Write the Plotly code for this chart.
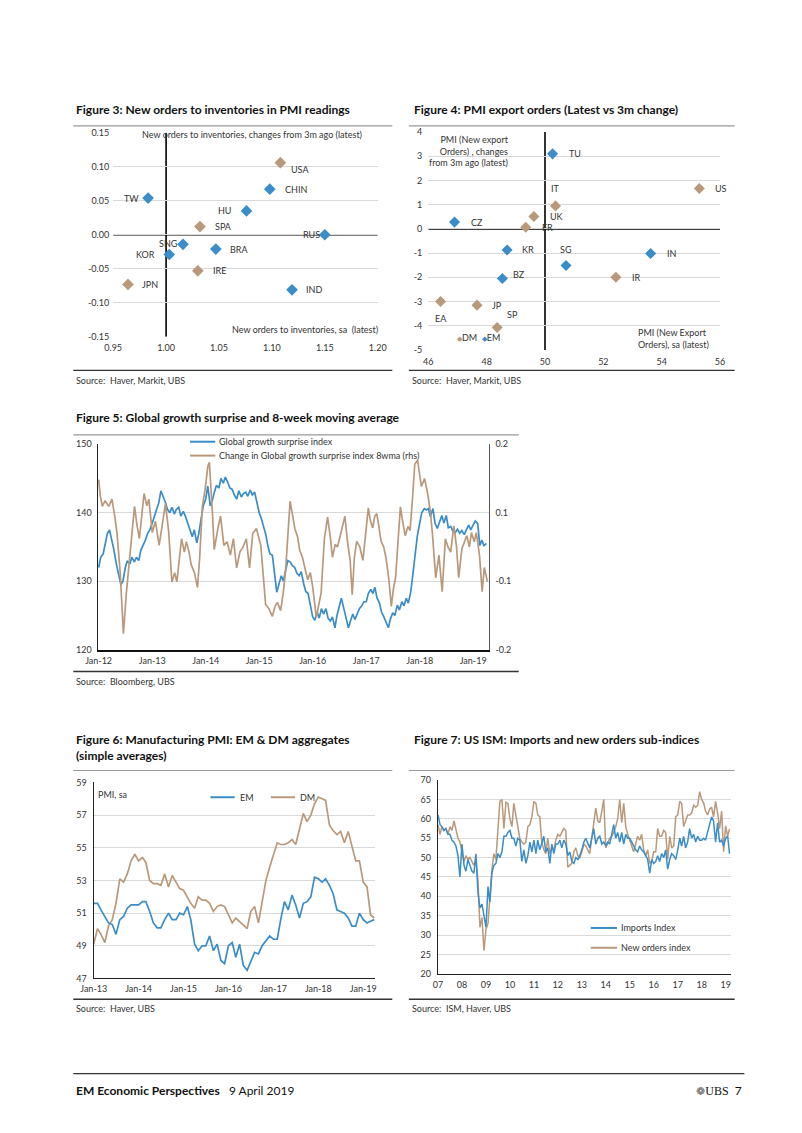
import plotly.graph_objects as go
import pandas as pd

W, H = 802, 1133
def px(x): return x / W
def py(y): return 1 - y / H

BLUE = '#3a8dc8'
TAN = '#b9997c'
GRID = '#d9d9d9'
TXT = '#333333'
FONT = 'Lato'

# ---------------- Figure 3 data ----------------
f3_labels = ['TW', 'CHIN', 'HU', 'RUS', 'SNG', 'KOR', 'BRA', 'IND', 'USA', 'SPA', 'IRE', 'JPN']
f3_x = [0.983, 1.098, 1.076, 1.150, 1.016, 1.003, 1.047, 1.119, 1.108, 1.032, 1.030, 0.964]
f3_y = [0.054, 0.067, 0.035, 0.000, -0.014, -0.029, -0.021, -0.081, 0.106, 0.012, -0.053, -0.073]
f3_group = ['EM', 'EM', 'EM', 'EM', 'EM', 'EM', 'EM', 'EM', 'DM', 'DM', 'DM', 'DM']
f3_xticks = [0.95, 1.00, 1.05, 1.10, 1.15, 1.20]
f3_xticktext = ['0.95', '1.00', '1.05', '1.10', '1.15', '1.20']
f3_yticks = [-0.15, -0.10, -0.05, 0.00, 0.05, 0.10, 0.15]
f3_yticktext = ['-0.15', '-0.10', '-0.05', '0.00', '0.05', '0.10', '0.15']

# ---------------- Figure 4 data ----------------
f4_labels = ['TU', 'CZ', 'KR', 'SG', 'IN', 'BZ', 'US', 'IT', 'UK', 'FR', 'IR', 'EA', 'JP', 'SP']
f4_x = [50.26, 46.90, 48.70, 50.72, 53.62, 48.54, 55.29, 50.36, 49.62, 49.34, 52.43, 46.42, 47.67, 48.36]
f4_y = [3.10, 0.28, -0.87, -1.51, -1.02, -2.05, 1.67, 0.95, 0.51, 0.07, -2.00, -3.00, -3.15, -4.07]
f4_group = ['EM', 'EM', 'EM', 'EM', 'EM', 'EM', 'DM', 'DM', 'DM', 'DM', 'DM', 'DM', 'DM', 'DM']
f4_xticks = [46, 48, 50, 52, 54, 56]
f4_yticks = [-5, -4, -3, -2, -1, 0, 1, 2, 3, 4]
f4_yticktext = ['-5', '-4', '-3', '-2', '-1', '0', '1', '2', '3', '4']

# ---------------- Figure 5 data ----------------
surprise_index = [
    132, 133.5, 134, 135.5, 137, 137.5, 136, 134.5, 132.5, 131, 129.5, 130, 132, 133, 132.5, 133.5, 132.8, 133.5, 133, 134.5, 135.2, 136, 137, 137.5,
    138.5, 139.5, 140.5, 141.5, 143.2, 142.5, 141.5, 140.5, 140, 140.8, 139.8, 140.5, 140.8, 139.5, 140.2, 139.5, 138.5, 137.5, 136.5, 137.5, 135.6, 137, 139.5, 141,
    142, 143.9, 141, 141.8, 143, 144, 143.6, 145, 144.3, 145.2, 144.4, 143.6, 143.4, 142.6, 142, 143.2, 142.3, 142.8, 143, 142.4, 143.3, 142.6, 143, 141.5,
    140, 139.2, 138, 136.8, 135.2, 134, 133.8, 131.5, 128.4, 129.5, 130.8, 130, 131.5, 133, 132.8, 132.3, 132, 131.2, 130.8, 131.4, 129.6, 128.5, 128.2, 126.6,
    124.8, 124.3, 125.5, 124.6, 126, 125.2, 126, 124.6, 124.2, 124.8, 123.2, 125, 126.5, 127.5, 126, 124.5, 123.2, 124.2, 125.2, 124.4, 125.2, 126, 126.4, 127,
    127, 128.2, 128.8, 128.2, 129.1, 127.6, 126.8, 125.5, 124.8, 124, 123.2, 124.5, 125.4, 125, 126.5, 125.8, 127, 126.4, 127.5, 126.8, 128.5, 131, 134.2, 136.5,
    138.5, 140, 140.6, 140.4, 140.6, 139.4, 140.6, 138.5, 137.7, 138.6, 139.6, 138.5, 139.6, 137.8, 138, 137.3, 137.1, 137.6, 137, 137.4, 136.8, 137.5, 138.2, 137.5,
    138.1, 138.8, 138.4, 135.2, 136, 135.2, 135.5]
surprise_dates = pd.date_range('2012-01-01', periods=len(surprise_index), freq='SMS')

chg_dates = [
    '2012-01-01', '2012-01-12', '2012-01-26', '2012-02-14', '2012-03-10', '2012-04-01', '2012-04-20', '2012-05-05', '2012-05-27', '2012-06-18',
    '2012-07-09', '2012-07-27', '2012-08-11', '2012-09-02', '2012-09-20', '2012-10-05', '2012-11-06', '2012-11-25', '2012-12-09',
    '2013-01-01', '2013-01-23', '2013-02-17', '2013-03-14', '2013-04-01', '2013-04-23', '2013-05-15', '2013-06-03', '2013-06-18', '2013-07-06',
    '2013-07-20', '2013-08-08', '2013-08-22', '2013-09-09', '2013-09-24', '2013-10-16', '2013-11-06', '2013-11-21', '2013-12-09', '2013-12-27',
    '2014-01-15', '2014-01-26', '2014-02-06', '2014-02-17', '2014-02-28', '2014-03-14', '2014-03-28', '2014-04-12', '2014-04-23', '2014-05-05',
    '2014-05-27', '2014-06-18', '2014-07-09', '2014-07-31', '2014-08-22', '2014-09-13', '2014-10-05', '2014-10-27', '2014-11-18', '2014-12-13',
    '2015-01-12', '2015-01-30', '2015-02-14', '2015-03-08', '2015-04-01', '2015-04-20', '2015-05-05', '2015-05-27', '2015-06-14', '2015-06-29',
    '2015-07-17', '2015-07-31', '2015-08-18', '2015-09-02', '2015-09-20', '2015-10-05', '2015-10-23', '2015-11-06', '2015-11-28', '2015-12-16',
    '2016-01-01', '2016-01-26', '2016-02-14', '2016-02-28', '2016-03-21', '2016-04-12', '2016-04-30', '2016-05-15', '2016-06-03', '2016-06-18',
    '2016-07-06', '2016-07-20', '2016-08-08', '2016-08-26', '2016-09-13', '2016-09-27', '2016-10-12', '2016-10-27', '2016-11-18', '2016-12-09',
    '2016-12-27', '2017-01-15', '2017-01-30', '2017-02-14', '2017-02-28', '2017-03-14', '2017-03-28', '2017-04-12', '2017-04-30', '2017-05-15',
    '2017-06-03', '2017-06-21', '2017-07-06', '2017-07-20', '2017-08-08', '2017-08-22', '2017-09-06', '2017-09-24', '2017-10-12', '2017-10-27',
    '2017-11-14', '2017-11-28', '2017-12-17', '2018-01-01', '2018-01-12', '2018-02-03', '2018-02-24', '2018-03-14', '2018-03-28', '2018-04-20',
    '2018-05-12', '2018-06-03', '2018-06-25', '2018-07-13', '2018-07-31', '2018-08-22', '2018-09-09', '2018-09-24', '2018-10-16', '2018-11-03',
    '2018-11-18', '2018-12-06', '2018-12-20', '2019-01-08', '2019-01-22', '2019-02-13', '2019-03-03', '2019-03-18', '2019-04-08']
chg_values = [
    0.131, 0.10, 0.079, 0.09, 0.079, 0.093, 0.06, 0.028, -0.049, -0.169,
    -0.087, -0.03, 0.016, 0.079, 0.04, 0.016, 0.104, 0.08, 0.093,
    0.028, 0.05, 0.003, 0.05, 0.085, 0.03, -0.068, -0.05, -0.068, -0.02,
    0.016, -0.01, 0.01, -0.01, -0.035, -0.05, -0.079, -0.02, 0.079, 0.11,
    0.156, 0.165, 0.12, 0.06, -0.005, 0.02, 0.04, 0.06, 0.03, 0.003,
    0.01, -0.016, 0.016, -0.041, -0.01, 0.0, 0.016, -0.041, 0.026, 0.036,
    0.003, -0.06, -0.112, -0.12, -0.135, -0.115, -0.108, -0.124, -0.09, -0.05,
    0.02, 0.089, 0.06, 0.035, 0.02, -0.007, -0.02, -0.039, -0.064, -0.05,
    -0.077, -0.137, -0.11, -0.089, 0.016, 0.058, 0.02, -0.02, 0.005, 0.0,
    0.02, 0.037, 0.06, 0.01, -0.026, -0.093, -0.02, 0.011, 0.0, -0.026,
    0.03, 0.076, 0.05, 0.037, 0.06, 0.065, 0.04, 0.011, 0.0, -0.02,
    -0.06, -0.116, -0.08, -0.06, 0.02, 0.078, 0.05, 0.022, 0.04, 0.032,
    0.10, 0.161, 0.169, 0.14, 0.118, 0.133, 0.104, 0.07, 0.028, -0.06,
    -0.016, -0.087, 0.016, 0.0, -0.01, 0.041, 0.0, -0.06, -0.003, 0.01,
    0.022, 0.0, 0.028, 0.01, 0.028, -0.016, -0.087, -0.04, -0.068]
f5_left_ticks = [120, 130, 140, 150]
f5_right_ticks = [-0.2, -0.0667, 0.0667, 0.2]
f5_right_ticktext = ['-0.2', '-0.1', '0.1', '0.2']

# ---------------- Figure 6 data ----------------
em_pmi = [51.6, 51.6, 51.2, 50.8, 50.4, 50.3, 49.7, 50.6, 50.8, 51.3, 51.5, 51.5,
          51.5, 51.7, 51.7, 51.1, 50.4, 50.1, 50.1, 50.6, 51.0, 50.6, 50.6, 51.0,
          50.9, 51.4, 50.6, 49.1, 48.7, 49.0, 49.0, 49.6, 48.7, 49.1, 48.1, 47.9,
          49.0, 49.2, 48.3, 49.1, 47.8, 47.5, 48.1, 48.6, 48.5, 49.0, 49.3, 49.6,
          49.4, 49.4, 50.6, 51.7, 51.2, 52.1, 51.5, 50.7, 51.6, 51.7, 52.0, 53.2,
          53.1, 52.9, 53.1, 52.7, 52.2, 51.2, 51.1, 51.0, 50.7, 50.2, 50.2, 51.0,
          50.6, 50.4, 50.5, 50.6]
dm_pmi = [49.1, 50.05, 49.7, 49.2, 50.2, 50.6, 51.6, 53.1, 52.9, 53.4, 54.2, 54.6,
          54.2, 54.4, 54.1, 53.0, 52.8, 52.8, 52.7, 53.4, 52.6, 53.3, 52.9, 52.5,
          52.4, 52.0, 51.6, 51.3, 52.0, 51.8, 51.8, 51.6, 51.1, 51.4, 51.5, 51.4,
          50.9, 50.4, 50.7, 50.5, 50.25, 50.05, 51.1, 51.4, 50.4, 51.8, 53.0, 53.8,
          54.6, 55.3, 55.2, 55.2, 55.3, 55.5, 55.2, 56.2, 57.1, 56.6, 57.0, 57.7,
          58.1, 58.0, 57.9, 56.4, 56.05, 55.8, 56.0, 55.3, 56.0, 55.1, 54.2, 54.2,
          52.9, 52.6, 50.9, 50.7]
pmi_dates = pd.date_range('2013-01-01', periods=len(em_pmi), freq='MS')

# ---------------- Figure 7 data ----------------
ism_imports = [
    61.0, 58.5, 58.0, 57.0, 57.5, 56.0, 56.0, 54.5, 54.0, 53.0, 50.5, 45.0,
    53.5, 48.0, 46.5, 49.5, 48.0, 46.5, 46.0, 51.0, 41.0, 37.0, 38.0, 35.0,
    32.0, 42.5, 38.5, 46.0, 48.0, 48.5, 51.0, 50.0, 51.5, 55.5, 55.5, 56.5,
    57.0, 55.0, 55.0, 53.0, 55.0, 54.5, 49.0, 52.0, 48.5, 50.5, 54.0, 51.5,
    54.5, 51.0, 54.5, 52.0, 53.5, 55.5, 51.5, 52.5, 48.5, 53.5, 51.0, 53.5,
    53.5, 54.5, 52.5, 54.5, 53.5, 50.5, 51.5, 49.0, 48.5, 50.0, 49.5, 50.5,
    52.0, 54.0, 55.0, 53.5, 52.5, 55.0, 57.5, 53.5, 55.0, 55.5, 53.5, 54.0,
    53.0, 54.0, 53.5, 56.0, 58.5, 55.0, 56.5, 54.0, 56.5, 53.5, 56.0, 55.0,
    55.0, 54.0, 53.0, 52.0, 51.5, 53.0, 52.0, 51.5, 50.5, 49.5, 46.0, 49.5,
    48.5, 49.0, 50.5, 49.0, 51.0, 50.0, 52.0, 47.0, 49.5, 51.0, 50.5, 49.5,
    52.0, 55.0, 53.0, 55.5, 52.5, 54.0, 57.5, 55.0, 56.0, 54.0, 55.5, 54.5,
    54.5, 55.0, 54.5, 57.0, 58.5, 60.5, 59.5, 54.0, 59.0, 54.0, 54.5, 53.0,
    55.0, 55.5, 51.0]
ism_new_orders = [
    58.5, 56.0, 58.0, 57.0, 57.5, 56.0, 58.0, 57.0, 59.5, 57.5, 55.0, 54.0,
    51.5, 49.0, 50.5, 49.5, 50.0, 49.0, 48.0, 49.5, 44.0, 32.0, 34.5, 26.0,
    31.5, 33.0, 40.0, 47.0, 51.0, 49.5, 57.0, 64.5, 65.0, 57.5, 64.3, 64.0,
    60.0, 58.0, 64.0, 61.0, 58.0, 55.0, 54.0, 53.5, 54.0, 58.0, 58.5, 60.5,
    64.5, 64.0, 61.0, 60.5, 54.0, 52.0, 51.0, 55.0, 51.0, 52.5, 52.0, 54.5,
    56.0, 55.5, 56.5, 57.5, 57.0, 47.5, 48.0, 48.5, 51.5, 52.5, 50.5, 50.0,
    51.5, 53.5, 53.0, 52.0, 51.0, 55.0, 59.0, 62.8, 59.5, 59.0, 62.0, 65.0,
    52.5, 54.0, 55.0, 55.5, 56.5, 58.0, 60.0, 65.0, 59.0, 64.0, 58.0, 56.0,
    54.5, 53.0, 51.5, 53.5, 55.5, 54.5, 56.0, 52.0, 50.5, 52.0, 48.5, 49.0,
    51.5, 51.5, 57.5, 55.5, 55.5, 57.0, 56.5, 49.5, 55.5, 52.5, 53.0, 60.5,
    61.0, 64.5, 64.0, 58.0, 59.5, 61.0, 61.0, 61.5, 63.5, 63.0, 63.5, 67.0,
    65.0, 64.0, 62.0, 61.0, 62.5, 63.0, 60.5, 64.5, 61.5, 57.5, 62.0, 51.5,
    58.2, 55.5, 57.4]
ism_dates = pd.date_range('2007-01-01', periods=len(ism_imports), freq='MS')

# ================= build figure =================
fig = go.Figure()

for grp, col in (('EM', BLUE), ('DM', TAN)):
    xs = [x for x, g in zip(f3_x, f3_group) if g == grp]
    ys = [y for y, g in zip(f3_y, f3_group) if g == grp]
    fig.add_trace(go.Scatter(x=xs, y=ys, mode='markers', xaxis='x', yaxis='y', showlegend=False,
                             marker=dict(symbol='diamond', size=9, color=col), hoverinfo='skip'))
for grp, col in (('EM', BLUE), ('DM', TAN)):
    xs = [x for x, g in zip(f4_x, f4_group) if g == grp]
    ys = [y for y, g in zip(f4_y, f4_group) if g == grp]
    fig.add_trace(go.Scatter(x=xs, y=ys, mode='markers', xaxis='x2', yaxis='y2', showlegend=False,
                             marker=dict(symbol='diamond', size=8.5, color=col), hoverinfo='skip'))
fig.add_trace(go.Scatter(x=chg_dates, y=chg_values, mode='lines', xaxis='x3', yaxis='y4', showlegend=False,
                         line=dict(color=TAN, width=1.7)))
fig.add_trace(go.Scatter(x=surprise_dates, y=surprise_index, mode='lines', xaxis='x3', yaxis='y3', showlegend=False,
                         line=dict(color=BLUE, width=1.7)))
fig.add_trace(go.Scatter(x=pmi_dates, y=dm_pmi, mode='lines', xaxis='x4', yaxis='y5', showlegend=False,
                         line=dict(color=TAN, width=1.7)))
fig.add_trace(go.Scatter(x=pmi_dates, y=em_pmi, mode='lines', xaxis='x4', yaxis='y5', showlegend=False,
                         line=dict(color=BLUE, width=1.7)))
fig.add_trace(go.Scatter(x=ism_dates, y=ism_new_orders, mode='lines', xaxis='x5', yaxis='y6', showlegend=False,
                         line=dict(color=TAN, width=1.5)))
fig.add_trace(go.Scatter(x=ism_dates, y=ism_imports, mode='lines', xaxis='x5', yaxis='y6', showlegend=False,
                         line=dict(color=BLUE, width=1.5)))

tickfont = dict(family=FONT, size=9, color=TXT)
def xax(dom, anchor, **kw):
    d = dict(domain=dom, anchor=anchor, showgrid=False, zeroline=False, tickfont=tickfont, ticks='', fixedrange=True)
    d.update(kw)
    return d
def yax(dom, anchor, **kw):
    d = dict(domain=dom, anchor=anchor, showgrid=True, gridcolor=GRID, gridwidth=0.8, zeroline=False,
             tickfont=tickfont, ticks='', fixedrange=True)
    d.update(kw)
    return d

fig.update_layout(
    width=W, height=H, margin=dict(l=0, r=0, t=0, b=0),
    paper_bgcolor='white', plot_bgcolor='white',
    font=dict(family=FONT, color=TXT),
    xaxis=xax([px(103), px(375)], 'y', range=[0.95, 1.20], tickvals=f3_xticks, ticktext=f3_xticktext,
              ticklabelstandoff=4),
    yaxis=yax([py(334), py(128)], 'x', range=[-0.15, 0.15], tickvals=f3_yticks, ticktext=f3_yticktext,
              ticklabelstandoff=3),
    xaxis2=xax([px(427), px(727)], 'y2', range=[46, 56], tickvals=f4_xticks, ticklabelstandoff=5),
    yaxis2=yax([py(347.3), py(127.3)], 'x2', range=[-5, 4], tickvals=f4_yticks, ticktext=f4_yticktext,
               ticklabelstandoff=5),
    xaxis3=xax([px(87), px(489)], 'y3', range=['2011-12-25', '2019-04-16'], tick0='2012-01-01', dtick='M12',
               tickformat='%b-%y', showline=True, linecolor='#111', linewidth=2, ticklabelstandoff=2),
    yaxis3=yax([py(650), py(442.5)], 'x3', range=[120, 150], tickvals=f5_left_ticks,
               showline=True, linecolor='#222', linewidth=1.2, ticklabelstandoff=3),
    yaxis4=dict(overlaying='y3', side='right', anchor='x3', range=[-0.2, 0.2], tickvals=f5_right_ticks,
                ticktext=f5_right_ticktext, showgrid=False, zeroline=False, tickfont=tickfont, ticks='',
                showline=True, linecolor='#555', linewidth=1, fixedrange=True, ticklabelstandoff=4),
    xaxis4=xax([px(83), px(372)], 'y5', range=['2013-01-01', '2019-04-05'], tick0='2013-01-01', dtick='M12',
               tickformat='%b-%y', showline=True, linecolor='#222', linewidth=1.3, ticklabelstandoff=2),
    yaxis5=yax([py(982), py(784)], 'x4', range=[47, 59], tick0=47, dtick=2,
               showline=True, linecolor='#222', linewidth=1.3, ticklabelstandoff=4),
    xaxis5=xax([px(437), px(738)], 'y6', range=['2007-01-01', '2019-03-20'], tick0='2007-01-01', dtick='M12',
               tickformat='%y', showline=True, linecolor='#222', linewidth=1.3, ticklabelstandoff=2),
    yaxis6=yax([py(977.3), py(781.7)], 'x5', range=[20, 70], tick0=20, dtick=5,
               showline=True, linecolor='#222', linewidth=1.3, ticklabelstandoff=4),
)

shapes = []
shapes.append(dict(type='line', xref='x', yref='y', x0=1.0, x1=1.0, y0=-0.15, y1=0.15, line=dict(color='black', width=1.6), layer='below'))
shapes.append(dict(type='line', xref='x', yref='y', x0=0.95, x1=1.20, y0=0, y1=0, line=dict(color='black', width=1.6), layer='below'))
shapes.append(dict(type='line', xref='x2', yref='y2', x0=50, x1=50, y0=-5, y1=4, line=dict(color='black', width=1.6), layer='below'))
shapes.append(dict(type='line', xref='x2', yref='y2', x0=46, x1=56, y0=0, y1=0, line=dict(color='black', width=1.6), layer='below'))

def hrule(y, x0, x1, color, width):
    shapes.append(dict(type='line', xref='paper', yref='paper', x0=px(x0), x1=px(x1), y0=py(y), y1=py(y),
                       line=dict(color=color, width=width)))
hrule(121, 62, 390, '#9a9a9a', 1.2); hrule(121, 407, 742, '#9a9a9a', 1.2)
hrule(368, 62, 390, '#333', 1.3); hrule(368, 407, 742, '#333', 1.3)
hrule(433, 62, 520, '#9a9a9a', 1.2); hrule(672, 62, 520, '#333', 1.3)
hrule(772, 62, 390, '#9a9a9a', 1.2); hrule(772, 407, 742, '#9a9a9a', 1.2)
hrule(1003, 62, 390, '#333', 1.3); hrule(1003, 407, 742, '#333', 1.3)
hrule(1078, 62, 752, '#333', 1.3)

def legline(x0, x1, y, color):
    shapes.append(dict(type='line', xref='paper', yref='paper', x0=px(x0), x1=px(x1), y0=py(y), y1=py(y),
                       line=dict(color=color, width=2)))
legline(182, 208, 440, BLUE); legline(182, 208, 454, TAN)
legline(203, 228, 799, BLUE); legline(265, 290, 799, TAN)
legline(594, 621, 931, BLUE); legline(594, 621, 951, TAN)
fig.update_layout(shapes=shapes)

ann = []
def ptext(x, y, text, size=9, xanchor='left', color=TXT, align='left', family=FONT):
    ann.append(dict(xref='paper', yref='paper', x=px(x), y=py(y), text=text, showarrow=False,
                    xanchor=xanchor, yanchor='middle', align=align,
                    font=dict(family=family, size=size, color=color)))

NB = '\u00a0'
ptext(63, 105, '<b>Figure 3: New orders to inventories in PMI readings</b>', size=12, color='#111')
ptext(410, 105, '<b>Figure 4: PMI export orders (Latest vs 3m change)</b>', size=12, color='#111')
ptext(63, 416, '<b>Figure 5: Global growth surprise and 8-week moving average</b>', size=12, color='#111')
ptext(63, 749, '<b>Figure 6: Manufacturing PMI: EM &amp; DM aggregates<br>(simple averages)</b>', size=12, color='#111')
ptext(410, 741, '<b>Figure 7: US ISM: Imports and new orders sub-indices</b>', size=12, color='#111')
ptext(63, 378, 'Source:' + NB * 2 + 'Haver, Markit, UBS')
ptext(408, 378, 'Source:' + NB * 2 + 'Haver, Markit, UBS')
ptext(63, 682, 'Source:' + NB * 2 + 'Bloomberg, UBS')
ptext(63, 1012, 'Source:' + NB * 2 + 'Haver, UBS')
ptext(408, 1012, 'Source:' + NB * 2 + 'ISM, Haver, UBS')
ptext(246, 130, 'New orders to inventories, changes from 3m ago (latest)', xanchor='center')
ptext(377, 327, 'New orders to inventories, sa' + NB * 2 + '(latest)', xanchor='right')
ptext(512, 146, 'PMI (New export<br>Orders) , changes<br>from 3m ago (latest)', xanchor='right', align='right')
ptext(641, 336, 'PMI (New Export<br>Orders), sa (latest)', xanchor='left', align='left')
ptext(454, 335, '<span style="color:%s;font-size:7px">&#9670;</span>DM' % TAN + NB * 2 +
      '<span style="color:%s;font-size:7px">&#9670;</span>EM' % BLUE)
ptext(85, 796, 'PMI, sa')
ptext(210, 440, 'Global growth surprise index')
ptext(210, 454, 'Change in Global growth surprise index 8wma (rhs)')
ptext(231, 799, 'EM'); ptext(293, 799, 'DM')
ptext(623, 931, 'Imports Index'); ptext(623, 951, 'New orders index')
ptext(63, 1095, '<b>EM Economic Perspectives</b>' + NB * 3 + '9 April 2019', size=12, color='#111')
ptext(752, 1095, '<span style="font-family:DejaVu Sans;font-size:11px;color:#555">&#10049;</span>'
      '<span style="font-family:Liberation Serif">UBS</span>' + NB * 2 + '7', size=12, color='#111', xanchor='right')

f3_style = {'TW': ('right', -7, 0), 'CHIN': ('left', 13, 0), 'HU': ('right', -13, 0), 'RUS': ('right', -3, 0),
            'SNG': ('right', -3, 1), 'KOR': ('right', -12, 0), 'BRA': ('left', 12, 0), 'IND': ('left', 12, 0),
            'USA': ('left', 9, -7), 'SPA': ('left', 13, 0), 'IRE': ('left', 13, 0), 'JPN': ('left', 12, 0)}
for lab, x, y in zip(f3_labels, f3_x, f3_y):
    xa, xs, ys = f3_style[lab]
    ann.append(dict(xref='x', yref='y', x=x, y=y, text=lab, showarrow=False, xanchor=xa, yanchor='middle',
                    xshift=xs, yshift=ys, font=dict(family=FONT, size=9, color=TXT)))
f4_style = {'TU': ('left', 14, 0), 'CZ': ('left', 14, 0), 'KR': ('left', 13, 0), 'SG': ('center', 0, 16),
            'IN': ('left', 14, 0), 'BZ': ('left', 9, 4), 'US': ('left', 14, 0), 'IT': ('center', 0, 17),
            'UK': ('left', 14, 0), 'FR': ('left', 14, 0), 'IR': ('left', 14, 0), 'EA': ('center', 0, -17),
            'JP': ('left', 13, 0), 'SP': ('left', 8, 13)}
for lab, x, y in zip(f4_labels, f4_x, f4_y):
    xa, xs, ys = f4_style[lab]
    ann.append(dict(xref='x2', yref='y2', x=x, y=y, text=lab, showarrow=False, xanchor=xa, yanchor='middle',
                    xshift=xs, yshift=ys, font=dict(family=FONT, size=9, color=TXT)))

fig.update_layout(annotations=ann)
fig.write_html('out.html', config={'displayModeBar': False},
               post_script="document.body.style.margin='0';document.body.style.padding='0';")
